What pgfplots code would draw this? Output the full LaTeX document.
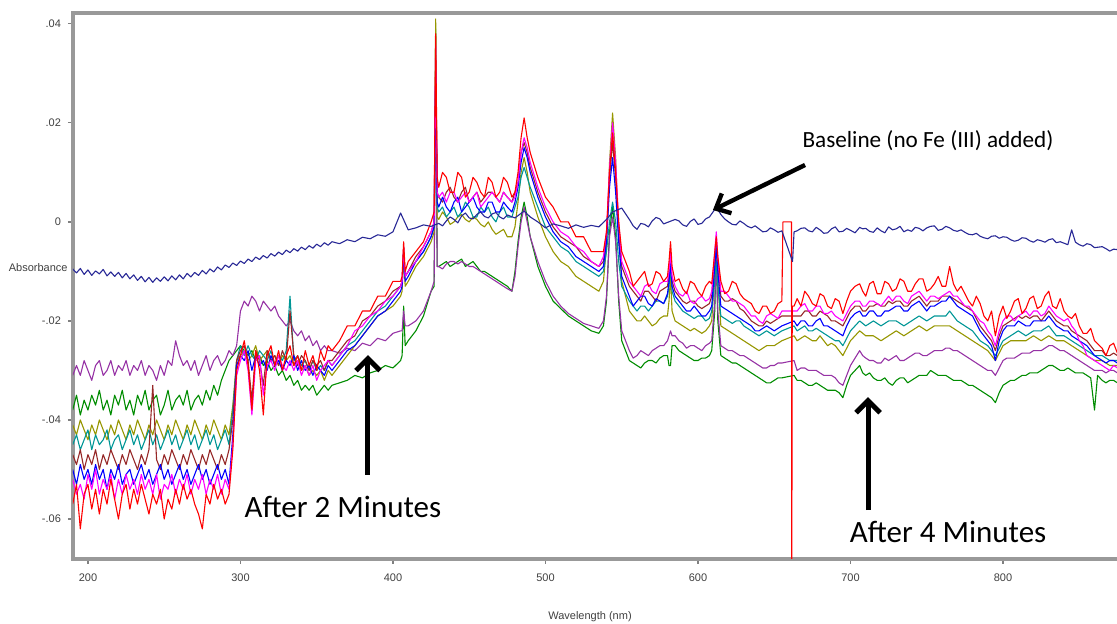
\documentclass[border=0pt]{standalone}
\usepackage{pgfplots}
\pgfplotsset{compat=1.18}
\usepackage{pgfplotstable}
\usepackage{fontspec}
\setmainfont{Liberation Sans}
\newfontfamily\calibri{Carlito}
\usetikzlibrary{arrows.meta}
\definecolor{cbase}{RGB}{40,40,150}
\definecolor{cred}{RGB}{255,0,0}
\definecolor{cmag}{RGB}{255,0,255}
\definecolor{cblue}{RGB}{0,0,255}
\definecolor{cbrown}{RGB}{150,40,40}
\definecolor{cteal}{RGB}{0,150,150}
\definecolor{colive}{RGB}{150,150,0}
\definecolor{cpurp}{RGB}{150,50,165}
\definecolor{cgreen}{RGB}{0,140,0}
\begin{document}
% absorbance in units of 0.001
\pgfplotstableread{
x base red mag blue brown teal olive purp green
190.0 -9.5 -57 -52 -50 -47 -45 -41 -31 -38
192.5 -10.3 -53 -55 -53 -49 -43 -43 -29 -35
195.0 -9.4 -62 -53 -49 -46 -46 -40 -31 -39
197.5 -10.6 -55 -56 -52 -50 -44 -42 -28 -36
200.0 -9.7 -53 -51 -50 -47 -42 -44 -30 -38
202.5 -10.8 -58 -54 -53 -49 -46 -41 -32 -35
205.0 -9.9 -54 -50 -49 -46 -43 -43 -29 -37
207.5 -10.5 -59 -55 -52 -50 -45 -40 -28 -34
210.0 -9.6 -54 -52 -50 -47 -44 -42 -31 -38
212.5 -10.9 -57 -54 -54 -49 -42 -44 -30 -36
215.0 -10.1 -52 -51 -50 -46 -46 -41 -28 -39
217.5 -11.0 -56 -56 -52 -48 -44 -43 -31 -35
220.0 -10.2 -60 -52 -49 -50 -43 -40 -29 -37
222.5 -11.3 -55 -55 -53 -47 -46 -42 -30 -34
225.0 -10.4 -53 -51 -51 -49 -44 -44 -28 -38
227.5 -11.5 -58 -54 -50 -46 -42 -41 -31 -36
230.0 -10.7 -54 -52 -53 -48 -45 -43 -29 -39
232.5 -11.8 -57 -55 -51 -50 -43 -40 -30 -35
235.0 -11.0 -53 -51 -49 -47 -46 -42 -28 -37
237.5 -12.1 -56 -54 -52 -49 -44 -44 -31 -34
240.0 -11.2 -59 -52 -50 -46 -42 -41 -29 -38
242.5 -12.2 -55 -55 -53 -33 -45 -43 -30 -36
245.0 -11.3 -57 -51 -51 -48 -43 -40 -32 -35
247.5 -12.0 -54 -56 -49 -50 -46 -42 -29 -39
250.0 -11.1 -60 -53 -52 -47 -44 -44 -31 -37
252.5 -11.9 -56 -54 -50 -49 -42 -41 -28 -34
255.0 -10.9 -58 -51 -53 -46 -45 -43 -29 -38
257.5 -11.7 -54 -55 -51 -48 -43 -40 -24 -36
260.0 -10.7 -57 -52 -49 -50 -46 -42 -27 -35
262.5 -11.5 -53 -54 -52 -47 -44 -44 -29 -37
265.0 -10.4 -56 -51 -50 -49 -42 -41 -28 -34
267.5 -11.1 -54 -55 -53 -46 -45 -43 -30 -38
270.0 -10.2 -57 -52 -51 -48 -43 -40 -28 -36
272.5 -10.8 -59 -54 -49 -50 -46 -42 -31 -35
275.0 -9.8 -62 -51 -52 -47 -44 -44 -29 -37
277.5 -10.5 -55 -55 -50 -49 -42 -41 -27 -34
280.0 -9.5 -57 -52 -53 -46 -45 -43 -30 -36
282.5 -10.1 -53 -54 -51 -48 -43 -40 -28 -33
285.0 -9.1 -56 -51 -49 -50 -46 -42 -27 -35
287.5 -9.7 -54 -55 -52 -47 -44 -44 -29 -32
290.0 -8.7 -57 -52 -50 -49 -42 -41 -28 -30
292.5 -9.2 -55 -54 -53 -46 -45 -43 -26 -28
295.0 -8.3 -46 -45 -43 -40 -38 -37 -27 -27
297.5 -8.8 -30 -31 -29 -28 -28 -28 -25 -26
300.0 -7.9 -27 -28 -27 -26 -25 -27 -18 -25
302.5 -8.4 -24 -26 -28 -25 -27 -26 -16 -26
305.0 -7.5 -29 -30 -26 -28 -25 -28 -17 -27
307.5 -8.0 -38 -39 -30 -36 -27 -27 -15 -26
310.0 -7.1 -26 -28 -27 -26 -28 -25 -16 -28
312.5 -7.6 -30 -27 -29 -28 -26 -28 -18 -27
315.0 -6.8 -39 -35 -28 -33 -27 -27 -16 -29
317.5 -7.3 -27 -29 -30 -26 -28 -26 -17 -28
320.0 -6.4 -25 -28 -27 -28 -26 -28 -18 -30
322.5 -6.9 -29 -30 -29 -27 -29 -27 -17 -29
325.0 -6.1 -26 -27 -28 -29 -27 -29 -19 -31
327.5 -6.6 -30 -29 -30 -26 -28 -27 -20 -30
330.0 -5.7 -27 -30 -28 -28 -26 -28 -21 -32
332.5 -6.2 -25 -28 -29 -18 -15 -27 -20 -31
335.0 -5.4 -29 -30 -27 -27 -28 -29 -22 -33
337.5 -5.9 -27 -28 -30 -29 -27 -28 -23 -32
340.0 -5.1 -30 -31 -28 -27 -29 -30 -22 -34
342.5 -5.6 -26 -29 -30 -28 -28 -29 -24 -33
345.0 -4.8 -29 -31 -29 -30 -30 -31 -23 -34
347.5 -5.3 -27 -29 -31 -28 -28 -30 -25 -33
350.0 -4.5 -30 -32 -29 -29 -30 -31 -24 -35
352.5 -5.0 -26 -30 -30 -28 -29 -30 -26 -34
355.0 -4.2 -28 -29 -31 -30 -30 -32 -25 -33
357.5 -4.7 -25 -28 -29 -28 -28 -30 -26 -34
360.0 -4.0 -26 -29 -30 -28 -29 -31 -26 -33
365.0 -4.4 -24 -27 -28 -26 -27 -29 -26.5 -32.5
370.0 -3.6 -21 -25 -26 -24 -25 -27 -25.5 -32
375.0 -4.0 -21 -22 -25 -23 -24 -25 -26 -31
380.0 -3.1 -18 -21 -23 -20 -22 -23 -24.5 -31.5
385.0 -3.4 -18 -19 -21 -19 -20 -21 -25 -30.5
390.0 -2.6 -15 -18 -19 -17 -18 -19 -23.5 -30
395.0 -2.9 -15 -16 -18 -16 -17 -18 -24 -29
400.0 -2.0 -12 -15 -16 -14 -15 -17 -22.5 -29.5
405.0 1.8 -12 -13 -14 -13 -13 -15 -22 -28
406.0 nan -11 -12 -13 -12 -12 -14 -22 -27
407.0 nan -4 -5 -6 -5 -6 -7 -18 -17
408.0 nan -10 -11 -12 -11 -11 -13 -21 -25
410.0 -1.6 -8 -10 -11 -10 -10 -12 -21 -24
415.0 -1.2 -6 -8 -8 -7 -8 -9 -20 -22
420.0 -0.6 -4 -5 -6 -5 -6 -7 -18 -19
425.0 -0.9 0 -2 -3 -2 -3 -4 -14 -14
427.0 nan 2 0 -1 0 -1 -2 -12 -13
428.0 nan 38 36 30 33 28 41 30 39
429.0 nan 9 6 4 6 3 1 -9 -9
430.0 -0.3 7 5 3 5 2 0.5 -9 -9
432.5 -0.8 10 6 5 4 3 2 -9.5 -8.5
435.0 0.2 9 4 3 6 1 1 -8.5 -8
437.5 1.0 6 6 2 7 2 -0.5 -8 -9
440.0 0.5 6 6 4 5 3 0 -8 -8.5
442.5 -0.2 10 4 5 4 1 1 -8.5 -8
445.0 1.2 9 5 2 6 2 1.5 -8 -7.5
447.5 1.8 5 6 3 7 4 0.5 -8.5 -9
450.0 0.8 6 4 4 4 3 0 -9 -8.5
452.5 0.6 9 5 5 5 1 1 -9 -8
455.0 1.5 8 6 3 6 1 0.5 -9.5 -9
457.5 2.0 6 3 2 4 3 -0.5 -10 -10
460.0 1.1 5 4 2 5 2 -1 -10.5 -10
462.5 0.8 9 5 4 6 3 0 -11 -10.5
465.0 1.6 8 6 4 6 1 -1.5 -11.5 -11
467.5 1.9 5 5 2 5 0 -2.5 -12 -11.5
470.0 1.0 6 4 2 4 2 -2 -12.5 -12
472.5 0.6 9 6 4 6 3 -1.5 -13 -12.5
475.0 1.4 8 5 3 5 1 -3 -13.5 -13
478.0 nan 5 4 2 4 1 -3 -14 -14
480.0 0.8 6 5 4 6 3 -1 -11 -10
482.0 nan 10 8 7 8 5 4 -5 -4
484.0 nan 17 14 12 14 9 10 0 1
486.0 2.2 21 17 15 16 11 13 3 4
488.0 nan 17 15 13 14 9 10 0 1
490.0 1.0 14 12 10 11 7 6 -3 -3
495.0 0.0 9 7 5 6 3 1 -8 -9
500.0 -1.2 5 3 1 2 -1 -3 -12 -13
505.0 -0.4 3 0 -2 -1 -3 -6 -15 -16
510.0 -0.8 0 -2 -4 -3 -5 -8 -17 -17.5
515.0 -1.3 0 -3 -5 -4 -6 -9 -18.5 -19
520.0 -0.6 -3 -5 -7 -5 -8 -11 -19.5 -20
525.0 -1.1 -3 -6 -8 -7 -9 -12 -20.5 -21
530.0 -0.7 -6 -8 -9 -8 -10 -13 -21 -22
535.0 -1.0 -6 -9 -10 -9 -11 -14 -21.5 -22.5
538.0 nan -6 -7 -9 -8 -10 -12 -20 -21
540.0 0.5 -2 -2 -4 -3 -6 -5 -15 -16
542.0 nan 10 11 7 9 0 12 -3 -2
544.0 2.0 18 20 13 16 4 22 1 3
546.0 nan 10 12 6 9 0 13 -4 -3
548.0 nan 0 0 -4 -2 -8 -3 -15 -16
550.0 2.8 -6 -8 -11 -9 -13 -12 -22 -24
555.0 0.5 -10 -12 -15 -13 -16 -18 -26 -28
557.5 -0.8 -13 -13 -17 -14 -17 -19 -27.5 -28.5
560.0 -1.5 -12 -14 -16 -15 -18 -20 -27 -29
562.5 -0.3 -11 -15 -15 -16 -17 -20 -26 -29.5
565.0 -0.5 -10 -13 -15 -14 -17 -19 -26.5 -28.5
567.5 -1.0 -13 -12.5 -16.5 -14 -18 -20 -27 -28
570.0 0.2 -12.5 -14 -17 -15 -17 -21 -26 -28
572.5 0.9 -10 -14.5 -15.5 -16 -16 -20.5 -25.5 -28.5
575.0 0.6 -10.5 -12.5 -16 -14 -16 -19.5 -25 -27.5
577.5 -0.4 -12 -12 -16.5 -13.5 -16.5 -19 -25 -27
580.0 -0.1 -11 -12 -14.5 -13 -15 -19 -24 -27
581.0 nan -8 -10 -12 -11 -13 -16 -23 -29
582.0 nan -4 -6 -8 -7 -9 -11 -22 -29
583.0 nan -9 -11 -13 -12 -14 -18 -23 -25
585.0 0.5 -12 -13 -15 -14 -16 -20 -23 -25
587.5 0.2 -11.5 -14.5 -16 -15 -17 -20.5 -24 -26
590.0 -0.6 -13.5 -15 -17 -16 -18 -21 -24.5 -26.5
592.5 -0.9 -14.5 -14 -18 -16.5 -18.5 -21.5 -25.5 -27
595.0 0.1 -12 -16 -18 -16 -19 -22 -25 -27.5
597.5 0.6 -12.5 -16.5 -17 -16 -19.5 -21.5 -25 -28
600.0 -0.5 -14 -15.5 -18 -17 -19 -22 -25.5 -28
602.5 -0.3 -15 -15 -19 -17.5 -19 -22.5 -26 -27.5
605.0 0.6 -13 -16 -19 -17 -20 -22 -25 -27.5
607.5 1.0 -12 -15.5 -18 -16.5 -19.5 -21 -24.5 -27
609.0 nan -12.5 -14 -17 -15 -18 -20 -24 -26
611.0 2.5 -6 -6 -9 -8 -12 -10 -16 -18
612.0 3.0 -3 -2 -5 -4 -8 -6 -8 -6
613.0 nan -7 -7 -10 -9 -13 -12 -18 -20
615.0 1.5 -12 -14 -17 -15 -19 -21 -25 -27
617.5 0.6 -14.5 -14 -17.5 -16 -19.5 -21.5 -25.5 -27.5
620.0 0.0 -14 -15 -18 -16 -20 -22 -26 -28
622.5 -0.5 -12 -16 -18.5 -15.5 -20.5 -22.5 -26 -28.5
625.0 -0.6 -12.5 -16 -19 -16 -20 -23 -26.5 -28.5
627.5 0.2 -14.5 -16.5 -19.5 -17.5 -20 -23.5 -27 -29
630.0 -0.3 -15.5 -17 -20 -18 -21 -24 -27 -29.5
632.5 -0.9 -16 -18 -20.5 -19 -21.5 -24.5 -27.5 -30
635.0 -1.2 -16.5 -19 -21 -20 -22 -25 -28 -30.5
637.5 -0.8 -18 -19 -22 -20.5 -22.5 -25.5 -28.5 -31
640.0 -1.4 -18.5 -20 -22 -21 -23 -26 -29 -31.5
642.5 -2.0 -17 -20.5 -21.5 -21 -22.5 -25.5 -29.5 -32
645.0 -1.9 -17 -19 -21 -20 -22 -25 -29.5 -32.5
647.5 -1.2 -18.5 -18.5 -21.5 -20.5 -22.5 -25 -29 -32.5
650.0 -1.6 -18 -19 -22 -20 -23 -25 -29 -32
652.5 -2.1 -16.5 -19.5 -21.5 -19.5 -22.5 -24.5 -28.5 -31.5
655.0 -1.8 -16 -18 -21 -19 -22 -24 -28.5 -31.5
655.7 nan 0 nan nan nan nan nan nan nan
661.3 nan 0 nan nan nan nan nan nan nan
661.5 nan -75 nan nan nan nan nan nan nan
661.8 nan -17 nan nan nan nan nan nan nan
662.0 -8.0 nan nan nan nan nan nan nan nan
663.0 -2.0 -17 -18 -20 -19 -21 -23 -28 -31
665.0 -1.8 -15.5 -18 -21 -19 -22 -24 -30 -32
667.5 -1.3 -17 -17 -20 -19 -21.5 -23.5 -29.5 -32
670.0 -1.2 -14 -16.5 -20 -18 -21 -23 -29.5 -32.5
672.5 -1.8 -15 -18 -21 -18 -22 -23.5 -30 -33
675.0 -2.0 -16.5 -18 -21 -19 -22 -24 -30 -33
677.5 -1.1 -17 -17 -20 -19 -21.5 -24 -30 -32.5
680.0 -1.6 -14.5 -17 -19.5 -18 -22 -23 -30.5 -33
682.5 -2.3 -15 -18.5 -21 -18.5 -22.5 -24 -31 -33.5
685.0 -2.2 -17 -18.5 -21 -19 -23 -25 -31 -34
687.5 -1.4 -17.5 -18 -21.5 -20 -23.5 -24.5 -31 -34
690.0 -1.0 -15.5 -19 -22 -20 -24 -25 -31.5 -34
692.5 -2.0 -16 -19.5 -22.5 -20.5 -24 -26 -32.5 -34.5
695.0 -1.9 -18.5 -20 -23 -21 -25 -27 -33 -35.5
697.5 -1.3 -16 -18.5 -21 -19.5 -23.5 -25.5 -31 -33
700.0 -1.7 -14 -17 -19.5 -18 -22 -24 -29 -31
703.0 -2.2 -13 -16 -18.5 -17 -21 -23 -27.5 -30
706.0 -1.1 -12.5 -16 -18 -17 -20 -22 -26 -29
708.0 -1.4 -14 -17 -19 -18 -20.5 -22.5 -27 -30.5
710.0 -1.3 -15 -17 -19 -18 -21 -23 -27.5 -31
712.5 -1.9 -12.5 -16 -18 -17 -20.5 -23 -28 -30.5
715.0 -2.1 -12 -16 -18 -17 -20 -23 -28 -31.5
717.5 -1.2 -14.5 -16.5 -19 -16.5 -20.5 -23.5 -28.5 -32
720.0 -1.8 -14.5 -17 -19 -17 -21 -24 -28.5 -32
722.5 -2.2 -12 -16 -18 -17 -20.5 -23.5 -27.5 -31.5
725.0 -1.0 -12.5 -15 -18 -16 -20 -23 -28 -32.5
727.5 -1.6 -14 -16 -17.5 -16.5 -20 -22.5 -27.5 -33
730.0 -1.4 -13.5 -15 -17 -16 -20 -22 -27 -32
732.5 -0.9 -11.5 -15 -17 -16 -20.5 -22.5 -28 -31.5
735.0 -2.0 -12 -16 -18 -17 -21 -23 -28 -31.5
737.5 -1.6 -14 -16.5 -18 -17 -20.5 -22.5 -27.5 -32.5
740.0 -1.9 -14 -15 -17 -16 -20 -22 -27 -32
742.5 -1.1 -12.5 -14.5 -16.5 -15.5 -19.5 -21.5 -26.5 -31.5
745.0 -1.3 -11.5 -14 -16 -15 -19 -21 -26.5 -31
747.5 -1.8 -11.5 -15 -17 -16 -19.5 -21.5 -27 -31
750.0 -1.2 -14 -16 -18 -17 -20 -22 -27 -31
752.5 -0.9 -13.5 -15 -17 -16 -19.5 -21.5 -26.5 -30
755.0 -0.8 -12.5 -15 -17 -16 -19 -21 -26 -30.5
757.5 -1.7 -11 -15.5 -16.5 -16 -19 -21 -26 -31
760.0 -1.5 -13 -15 -16 -15 -19 -21 -26 -31
762.5 -0.9 -13 -14.5 -16 -15 -19 -21 -25.5 -31
765.0 -1.2 -9 -14 -15 -15 -18 -21 -25.5 -31.5
767.5 -1.7 -12.5 -15 -16 -15.5 -19 -21.5 -26 -32
770.0 -1.9 -14 -15 -17 -16 -20 -22 -26 -32
772.5 -1.6 -13 -16 -17.5 -16.5 -20.5 -22.5 -26.5 -32
775.0 -2.1 -14.5 -17 -18 -17 -21 -23 -27 -32.5
777.5 -2.5 -16 -17 -18.5 -17.5 -21.5 -23.5 -27.5 -33
780.0 -2.6 -17 -18 -19 -18 -22 -24 -28 -33
782.5 -2.3 -15 -19 -20.5 -19.5 -23 -24.5 -28.5 -33.5
785.0 -2.9 -16.5 -20 -22 -21 -24 -25 -29 -34
787.5 -3.2 -19 -20.5 -23 -22 -24.5 -25.5 -29.5 -34.5
790.0 -3.4 -20 -22 -24 -23 -25 -26 -30 -35
792.5 -2.9 -18 -23 -25 -24 -26 -27 -30 -35.5
795.0 -2.8 -23 -25 -28 -26 -27 -28 -31 -36.5
797.5 -3.3 -19 -22 -24 -23 -25.5 -26.5 -29.5 -34.5
800.0 -3.0 -17 -20 -22 -21 -24 -25 -28 -33
802.5 -3.1 -19.5 -19 -21 -20.5 -23.5 -24.5 -27.5 -32.5
805.0 -3.6 -18 -19 -21 -20 -23 -24 -27.5 -32
807.5 -3.9 -16 -20 -21 -19.5 -22.5 -24 -27.5 -32
810.0 -3.7 -15.5 -19 -20 -19 -22 -24 -27 -31.5
812.5 -3.2 -18.5 -18.5 -20.5 -19.5 -22.5 -24 -26.5 -31
815.0 -3.3 -17.5 -18 -21 -19 -23 -24 -26.5 -31
817.5 -3.8 -15.5 -19 -21 -19.5 -22.5 -23.5 -26.5 -30.5
820.0 -4.1 -15 -18 -20 -19 -22 -23 -26 -30.5
822.5 -3.6 -17.5 -18 -20 -19 -22 -23.5 -26 -30.5
825.0 -3.8 -17 -19 -20 -20 -22 -24 -26 -30
827.5 -4.1 -15 -18.5 -20 -19 -21.5 -23.5 -25.5 -29.5
830.0 -3.6 -14 -17 -19 -18 -21 -23 -25 -29
832.5 -3.4 -17 -18 -20 -19 -22 -23.5 -25 -29
835.0 -4.2 -17.5 -19 -21 -20 -23 -24 -25.5 -29.5
837.5 -4.0 -15.5 -19.5 -21.5 -20.5 -23 -24 -26 -30
840.0 -4.3 -18 -20 -22 -21 -23 -24 -26 -30
842.5 -4.6 -19 -19.5 -22 -21 -23.5 -24.5 -26.5 -29.5
845.0 -1.6 -19.5 -21 -23 -22 -24 -25 -27 -30
847.5 -4.1 -18.5 -22 -23.5 -22.5 -24.5 -25.5 -27.5 -30.5
850.0 -4.6 -21 -24 -24 -23 -25 -26 -28 -30.5
852.5 -4.9 -22.5 -25 -24.5 -23.5 -25.5 -26.5 -28.5 -30.5
855.0 -4.4 -22.5 -27 -25 -24 -26 -27 -29 -31
857.5 -4.6 -21.5 -27.5 -26 -25 -26.5 -27.5 -29.5 -31.5
860.0 -5.2 -24 -28 -27 -26 -27 -28 -30 -38
862.0 nan nan nan nan nan nan nan nan -31
865.0 -5.0 -25.5 -29 -28 -26 -27 -28 -30 -32
867.5 -5.4 -27 -29.5 -28.5 -27 -27.5 -28.5 -30.5 -32.5
870.0 -5.9 -25 -30 -28 -27 -28 -29 -30 -32
872.5 -5.5 -24.5 -29 -28 -26.5 -28 -29 -30 -32
875.0 -5.6 -26.5 -29.5 -28.5 -27 -28 -29 -30.5 -32.5
}\spectra
\begin{tikzpicture}
\path[use as bounding box] (0,0) rectangle (558.5pt,312pt);
\begin{axis}[
  at={(36.5pt,32.5pt)}, anchor=south west,
  scale only axis, width=526pt, height=273pt,
  xmin=190.2, xmax=880, ymin=-68.08, ymax=42.2,
  axis line style={draw=black!40, line width=1.6pt},
  tick align=outside, xtick pos=left, ytick pos=left,
  major tick length=2.5pt,
  tick style={black!50, line width=0.6pt},
  xtick={200,300,400,500,600,700,800},
  xticklabels={200,300,400,500,600,700,800},
  ytick={-60,-40,-20,0,20,40},
  yticklabels={-.06,-.04,-.02,0,.02,.04},
  ticklabel style={font=\fontsize{5.5}{6}\selectfont, text=black!75},
  xticklabel style={yshift=-1.5pt},
  clip mode=individual,
  no markers,
  every axis plot/.append style={line width=0.55pt, line join=round},
]
\addplot[cgreen] table[x=x,y=green]{\spectra};
\addplot[cpurp] table[x=x,y=purp]{\spectra};
\addplot[colive] table[x=x,y=olive]{\spectra};
\addplot[cteal] table[x=x,y=teal]{\spectra};
\addplot[cbrown] table[x=x,y=brown]{\spectra};
\addplot[cblue] table[x=x,y=blue]{\spectra};
\addplot[cmag] table[x=x,y=mag]{\spectra};
\addplot[cred] table[x=x,y=red]{\spectra};
\addplot[cbase] table[x=x,y=base]{\spectra};

\draw[line width=2.5pt, -{Straight Barb[length=6pt,width=12pt]}] (axis cs:383.6,-51.1) -- (axis cs:383.6,-26.9);
\draw[line width=2.5pt, -{Straight Barb[length=6pt,width=12pt]}] (axis cs:711.5,-58.2) -- (axis cs:711.5,-35.4);
\draw[line width=2.2pt, -{Straight Barb[length=6pt,width=11pt]}] (axis cs:670.2,11.5) -- (axis cs:609.8,2.4);
\node[font=\calibri\fontsize{15.5}{18}\selectfont] at (axis cs:367.2,-57.6) {After 2 Minutes};
\node[font=\calibri\fontsize{15.5}{18}\selectfont] at (axis cs:764,-62.6) {After 4 Minutes};
\node[font=\calibri\fontsize{11.6}{13}\selectfont] at (axis cs:750.8,16.4) {Baseline (no Fe (III) added)};
\node[anchor=east, font=\fontsize{5.5}{6}\selectfont, text=black!75, inner sep=0pt] at (axis cs:190.2,-9.3) [xshift=-2.5pt] {Absorbance};
\node[font=\fontsize{5.5}{6}\selectfont, text=black!75] at (axis cs:529.2,-68.08) [yshift=-29pt] {Wavelength (nm)};
\end{axis}
\end{tikzpicture}
\end{document}
